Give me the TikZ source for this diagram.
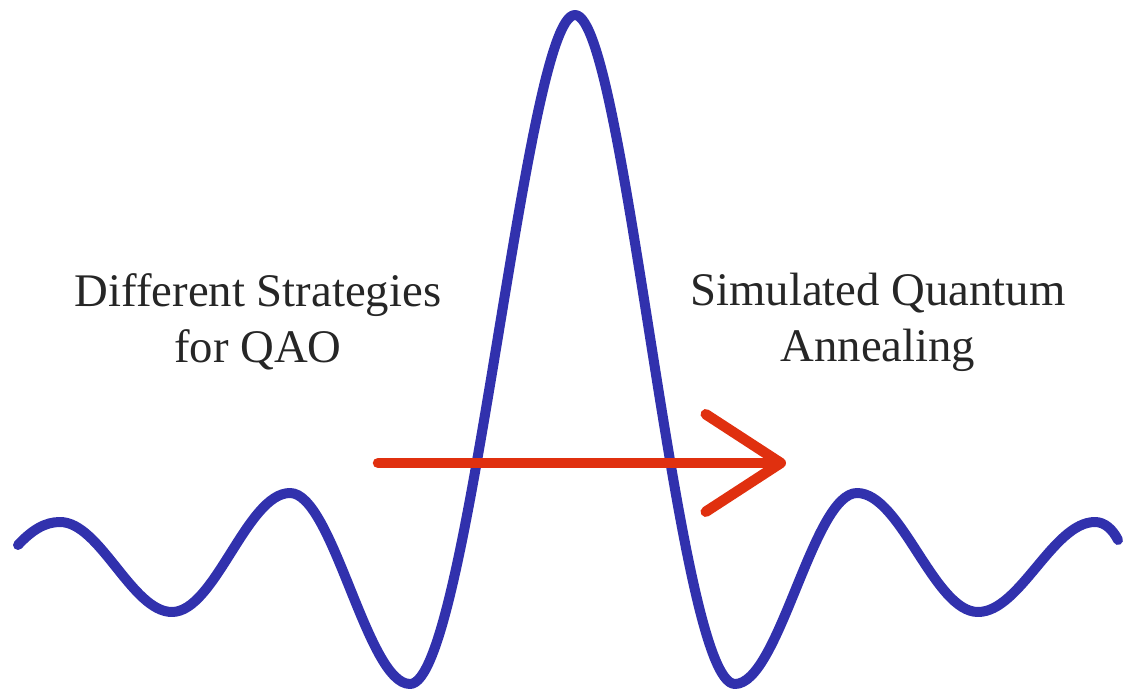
\documentclass[tikz,border=0pt]{standalone}
\usepackage{fontspec}
\setmainfont{Liberation Serif}
\usetikzlibrary{arrows.meta}
\definecolor{SQ_BLUE}{HTML}{3131AD}
\definecolor{SQ_RED}{HTML}{E0300F}
\tikzset{
  wave/.style={draw=SQ_BLUE, line width=0.2cm, line cap=round, line join=round},
  caption/.style={align=center, text=black!85, inner sep=0pt,
    font=\fontsize{26.6}{32}\selectfont},
  arr/.style={-{Straight Barb[length=1.5cm,width=1.95cm,round]},
    line width=0.21cm, line cap=round, color=SQ_RED},
}

\begin{document}
\begin{tikzpicture}[x=0.02cm, y=-0.02cm]
  \useasboundingbox (0,0) rectangle (1123,692);

  % the wave
  \draw[wave] (18,545) .. controls (32,530) and (45,522) .. (60,522)
    .. controls (100,522) and (132,612) .. (172,612)
    .. controls (215,612) and (247,493) .. (290,493)
    .. controls (333,493) and (367,684) .. (410,684)
    .. controls (469,684) and (525,15) .. (575,15)
    .. controls (625,15) and (677,684) .. (735,684)
    .. controls (779,684) and (813,493) .. (857,493)
    .. controls (901,493) and (934,612) .. (978,612)
    .. controls (1020,612) and (1053,522) .. (1095,522)
    .. controls (1105,522) and (1113,530) .. (1118,540);

  % labels
  \node[caption] (strat) at (258,322) {Different Strategies\\for QAO};
  \node[caption] (sqa)   at (878,322) {Simulated Quantum\\Annealing};

  % arrow
  \coordinate (arrS) at (378,463);
  \coordinate (arrE) at (786,463);
  \draw[arr] (arrS) -- (arrE);

\end{tikzpicture}
\end{document}
